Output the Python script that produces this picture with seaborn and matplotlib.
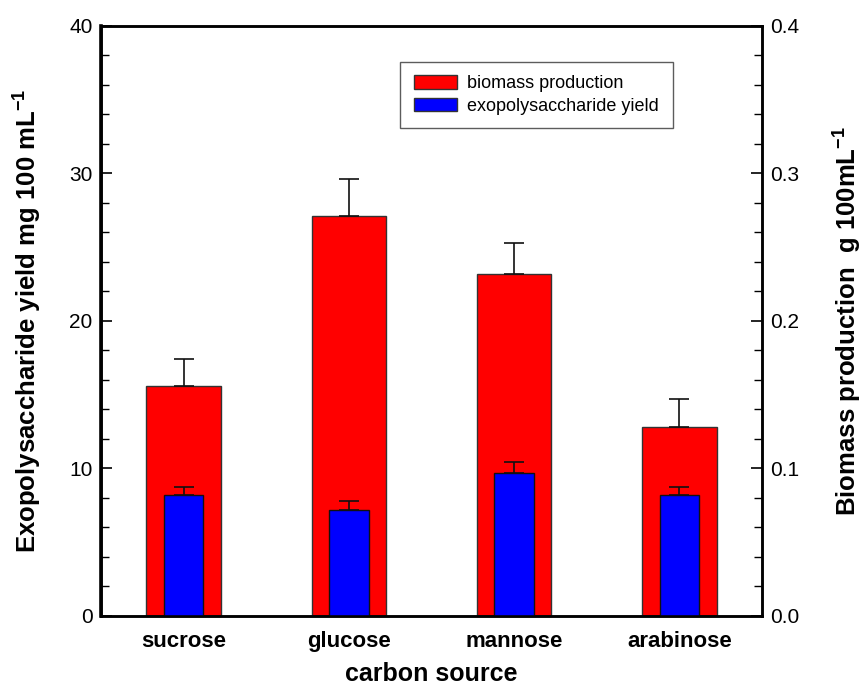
import numpy as np
import pandas as pd
import matplotlib
matplotlib.use("Agg")
import matplotlib.pyplot as plt
from matplotlib.ticker import MultipleLocator, FormatStrFormatter
from matplotlib.patches import Patch
import seaborn as sns

# Carbon sources tested
categories = ["sucrose", "glucose", "mannose", "arabinose"]
# Biomass production, g 100 mL^-1 (right axis) with upper error
biomass = [0.156, 0.271, 0.232, 0.128]
biomass_err = [0.018, 0.025, 0.021, 0.019]
# Exopolysaccharide yield, mg 100 mL^-1 (left axis) with upper error
eps_yield = [8.2, 7.2, 9.7, 8.2]
eps_err = [0.5, 0.6, 0.7, 0.5]

sns.set_theme(style="white")
plt.rcParams["font.family"] = ["Liberation Sans", "DejaVu Sans"]
plt.rcParams["mathtext.fontset"] = "custom"
plt.rcParams["mathtext.rm"] = "Liberation Sans:bold"
plt.rcParams["mathtext.bf"] = "Liberation Sans:bold"
plt.rcParams["mathtext.default"] = "bf"
for key in ("text.color", "axes.labelcolor", "xtick.color", "ytick.color"):
    plt.rcParams[key] = "black"

df = pd.DataFrame({"source": categories, "biomass": biomass, "eps": eps_yield})

fig = plt.figure(figsize=(8.65, 6.88), dpi=100)
ax = fig.add_axes([0.1168, 0.105, 0.7642, 0.8576])
ax2 = ax.twinx()

# Biomass bars on the right axis, drawn behind
sns.barplot(data=df, x="source", y="biomass", ax=ax2, color="#ff0000",
            saturation=1, width=0.45, edgecolor="#333333", linewidth=1.0,
            errorbar=None)
x = np.arange(len(categories))
ax2.errorbar(x, biomass, yerr=[np.zeros(len(biomass)), biomass_err],
             fmt="none", ecolor="#111111", elinewidth=1.2, capsize=7,
             capthick=1.2)

# EPS bars on the left axis, drawn in front
ax.set_zorder(ax2.get_zorder() + 1)
ax.patch.set_visible(False)
sns.barplot(data=df, x="source", y="eps", ax=ax, color="#0000ff",
            saturation=1, width=0.24, edgecolor="#111111", linewidth=1.0,
            errorbar=None)
ax.errorbar(x, eps_yield, yerr=[np.zeros(len(eps_yield)), eps_err],
            fmt="none", ecolor="#111111", elinewidth=1.2, capsize=7,
            capthick=1.2)

ax.set_xlim(-0.5, 3.5)
ax.set_ylim(0, 40)
ax2.set_ylim(0, 0.4)
ax.yaxis.set_major_locator(MultipleLocator(10))
ax.yaxis.set_minor_locator(MultipleLocator(2))
ax2.yaxis.set_major_locator(MultipleLocator(0.1))
ax2.yaxis.set_minor_locator(MultipleLocator(0.02))
ax2.yaxis.set_major_formatter(FormatStrFormatter("%.1f"))

for a in (ax, ax2):
    for s in a.spines.values():
        s.set_visible(True)
        s.set_color("black")
        s.set_linewidth(1.8)
ax.spines["left"].set_linewidth(2.6)

ax.tick_params(axis="y", which="major", direction="in", length=8, width=1.2,
               labelsize=15, left=True, right=False, pad=6)
ax.tick_params(axis="y", which="minor", direction="in", length=5.5, width=1.0,
               left=True, right=False)
ax2.tick_params(axis="y", which="major", direction="in", length=8, width=1.2,
                labelsize=15, right=True, left=False, pad=6)
ax2.tick_params(axis="y", which="minor", direction="in", length=5.5, width=1.0,
                right=True, left=False)
ax.tick_params(axis="x", which="both", length=0, pad=11, labelsize=16)
for lbl in ax.get_xticklabels():
    lbl.set_fontweight("bold")

ax.set_xlabel("carbon source", fontsize=18, fontweight="bold", labelpad=7)
ax.set_ylabel(r"Exopolysaccharide yield mg 100 mL$^{-1}$", fontsize=18.5,
              fontweight="bold", labelpad=18)
ax2.set_ylabel(r"Biomass production  g 100mL$^{-1}$", fontsize=18.5,
               fontweight="bold", labelpad=23, rotation=90)

handles = [Patch(facecolor="#ff0000", edgecolor="#333333", label="biomass production"),
           Patch(facecolor="#0000ff", edgecolor="#333333", label="exopolysaccharide yield")]
leg = ax.legend(handles=handles, loc="upper left", bbox_to_anchor=(0.453, 0.939),
                borderaxespad=0, frameon=True, fancybox=False, edgecolor="#333333",
                fontsize=13, handlelength=2.4, handleheight=0.75,
                borderpad=0.75, handletextpad=0.55, labelspacing=0.3)
leg.get_frame().set_linewidth(1.0)

fig.savefig("out.png", dpi=100)
